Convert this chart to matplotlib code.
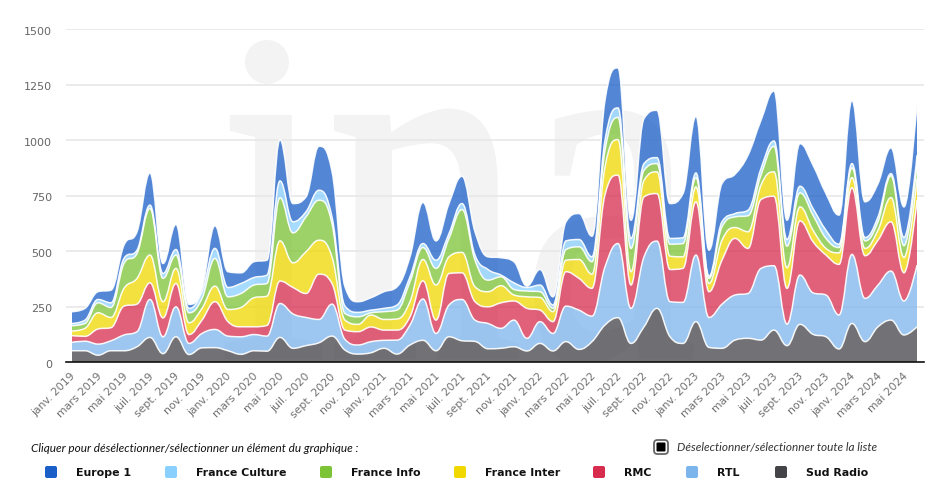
import numpy as np
import matplotlib
matplotlib.use('Agg')
import matplotlib.pyplot as plt
from matplotlib.path import Path
from matplotlib.patches import PathPatch, FancyBboxPatch, Circle
from matplotlib.textpath import TextPath
from matplotlib.font_manager import FontProperties
from matplotlib.transforms import Affine2D, IdentityTransform, ScaledTranslation

W, H = 946, 503

# values: top edge of each stacked band, monthly from janv. 2019
top_sud = [52,52,32,52,52,70,112,39,115,35,65,66,52,36,52,50,112,63,75,88,
           118,55,37,43,63,37,78,99,52,115,97,94,61,63,70,51,85,51,93,58,
           93,168,201,85,160,243,115,85,183,67,63,100,108,100,145,75,171,126,115,60,
           175,93,160,190,123,160]
top_rtl = [90,95,82,97,123,138,283,115,250,85,130,148,118,115,125,118,265,218,202,193,
           262,103,78,93,99,100,168,285,130,258,283,190,175,153,190,108,183,130,253,235,
           208,430,535,243,475,546,273,270,483,202,262,303,310,423,435,172,393,313,303,213,
           486,288,348,411,276,438]
top_rmc = [120,117,150,156,253,262,358,200,355,125,190,273,183,160,160,166,366,337,310,397,
           355,145,138,159,145,145,205,367,190,400,403,273,250,268,276,243,235,183,408,378,
           333,755,843,348,745,760,418,423,723,318,460,558,513,733,748,333,637,543,483,441,
           786,480,550,633,403,730]
top_inter = [141,153,223,202,333,378,483,273,423,178,243,343,238,247,291,298,547,448,498,550,
             475,190,171,213,193,195,273,463,348,475,495,340,318,345,303,295,292,228,460,463,
             397,880,1003,408,820,858,478,475,790,355,550,607,588,798,858,426,700,595,513,493,
             832,513,595,742,472,828]
top_info = [165,175,268,247,445,490,693,378,483,223,288,468,295,310,348,355,741,583,655,730,
            625,220,205,223,228,235,363,517,423,558,688,460,370,385,328,321,318,243,508,520,
            453,955,1103,513,865,895,532,535,832,378,610,655,660,843,973,523,763,663,558,517,
            876,547,633,840,525,895]
top_culture = [175,190,283,268,468,505,708,400,508,243,318,513,337,355,382,393,817,633,678,775,
               655,253,225,235,243,258,385,535,460,580,715,483,418,393,358,337,348,258,547,553,
               475,1000,1146,558,895,922,558,561,853,388,633,670,685,873,997,553,793,693,595,532,
               895,562,655,850,562,933]
top_europe = [228,243,318,325,528,588,853,445,621,261,333,615,408,403,453,460,1003,715,745,973,
              860,340,273,291,318,340,475,720,547,715,838,588,475,471,453,343,418,295,633,670,
              568,1180,1326,640,1098,1135,715,760,1108,505,805,847,933,1090,1222,640,985,888,760,663,
              1180,723,805,966,700,1170]

names = ['Europe 1', 'France Culture', 'France Info', 'France Inter', 'RMC', 'RTL', 'Sud Radio']
colors = ['#1a5fc8', '#8ad0ff', '#7cc436', '#f0d800', '#d82c4e', '#7cb5ec', '#434348']
tops = [top_europe, top_culture, top_info, top_inter, top_rmc, top_rtl, top_sud]
y_ticks = [0, 250, 500, 750, 1000, 1250, 1500]
month_names = ['janv.', 'mars', 'mai', 'juil.', 'sept.', 'nov.']
tick_labels = [f'{m} {y}' for y in range(2019, 2025) for m in month_names][:33]


def spline_segments(y):
    # same smoothing as a highcharts areaspline
    x = np.arange(len(y), dtype=float)
    y = np.array(y, dtype=float)
    n = len(y)
    left = np.column_stack([x, y])
    right = np.column_stack([x, y])
    for i in range(1, n - 1):
        lx = (1.5 * x[i] + x[i-1]) / 2.5
        ly = (1.5 * y[i] + y[i-1]) / 2.5
        rx = (1.5 * x[i] + x[i+1]) / 2.5
        ry = (1.5 * y[i] + y[i+1]) / 2.5
        corr = (ry - ly) * (rx - x[i]) / (rx - lx) + y[i] - ry
        ly += corr
        ry += corr
        if ly > y[i] and ly > y[i-1]:
            ly = max(y[i-1], y[i])
            ry = 2 * y[i] - ly
        elif ly < y[i] and ly < y[i-1]:
            ly = min(y[i-1], y[i])
            ry = 2 * y[i] - ly
        if ry > y[i] and ry > y[i+1]:
            ry = max(y[i+1], y[i])
            ly = 2 * y[i] - ry
        elif ry < y[i] and ry < y[i+1]:
            ry = min(y[i+1], y[i])
            ly = 2 * y[i] - ry
        left[i] = lx, ly
        right[i] = rx, ry
    return x, y, left, right


def curve_verts(y):
    x, y, left, right = spline_segments(y)
    verts = [(x[0], y[0])]
    for i in range(1, len(y)):
        verts += [tuple(right[i-1]), tuple(left[i]), (x[i], y[i])]
    return verts


fig = plt.figure(figsize=(W / 100, H / 100), dpi=100)
ax = fig.add_axes([66 / W, (H - 362.3) / H, 858 / W, 333 / H])
ax.set_xlim((66 - 72) / 13, (924 - 72) / 13)
ax.set_ylim(0, 1500)

for s in ['top', 'left', 'right']:
    ax.spines[s].set_visible(False)
ax.spines['bottom'].set_color('#111111')
ax.spines['bottom'].set_linewidth(1.2)
ax.spines['bottom'].set_zorder(6)
ax.set_axisbelow(True)
ax.grid(axis='y', color='#e6e6e6', linewidth=1.1)
ax.tick_params(length=0)
ax.set_yticks(y_ticks)
ax.set_yticklabels([str(t) for t in y_ticks], fontsize=8, color='#666666')
ax.tick_params(axis='y', pad=10)
for lab in ax.get_yticklabels():
    lab.set_transform(lab.get_transform() + ScaledTranslation(0, -1.5 / 100, fig.dpi_scale_trans))
ax.set_xticks(range(0, 66, 2))
ax.set_xticklabels(tick_labels, rotation=45, ha='right', va='top', rotation_mode='anchor',
                   fontsize=7.8, color='#707070')
ax.tick_params(axis='x', pad=6.5)
for lab in ax.get_xticklabels():
    lab.set_transform(lab.get_transform() + ScaledTranslation(-1.5 / 100, 0, fig.dpi_scale_trans))

# pale logo behind the areas, fitted on its pixel box
logo = TextPath((0, 0), '\u0131na', size=100, prop=FontProperties(family='Liberation Serif'))
box = logo.get_extents()
sx = (691 - 227) / box.width
sy = (362 - 111) / box.height
logo_tr = Affine2D().translate(-box.x0, -box.y0).scale(sx, sy).translate(227, H - 362)
ax.add_patch(PathPatch(logo, transform=logo_tr, facecolor='#f3f3f3', edgecolor='#f3f3f3',
                       linewidth=3.5, zorder=0.4))
ax.add_patch(Circle((267, H - 62), 22, transform=IdentityTransform(), facecolor='#f3f3f3',
                    edgecolor='none', zorder=0.4))

# stacked areas, top band first
n_months = len(top_sud)
for k in range(len(tops)):
    upper = curve_verts(tops[k])
    if k + 1 < len(tops):
        lower = curve_verts(tops[k + 1])[::-1]
    else:
        lower = [(n_months - 1, 0), (n_months - 1, 0), (0, 0), (0, 0)]
    verts = upper + lower + [upper[0]]
    codes = [Path.MOVETO] + [Path.CURVE4] * (len(upper) - 1) + [Path.LINETO] + \
            [Path.CURVE4] * (len(lower) - 1) + [Path.CLOSEPOLY]
    ax.add_patch(PathPatch(Path(verts, codes), facecolor=colors[k], alpha=0.75,
                           edgecolor='none', zorder=2 + k * 0.01))
    line_codes = [Path.MOVETO] + [Path.CURVE4] * (len(upper) - 1)
    ax.add_patch(PathPatch(Path(upper, line_codes), facecolor='none', edgecolor='white',
                           linewidth=1.1, zorder=3, alpha=0.9))

# legend, in pixel positions
legend_ax = fig.add_axes([0, 0, 1, 1], facecolor='none')
legend_ax.set_xlim(0, W)
legend_ax.set_ylim(H, 0)
legend_ax.axis('off')

legend_ax.text(31, 448.5, 'Cliquer pour désélectionner/sélectionner un élément du graphique :',
               family='Lato', style='italic', fontsize=8.5, color='#111111', va='center')
legend_ax.text(677, 447.5, 'Déselectionner/sélectionner toute la liste',
               family='Lato', style='italic', fontsize=8.5, color='#333333', va='center')
legend_ax.add_patch(FancyBboxPatch((654, 440), 14, 14, boxstyle='round,pad=0,rounding_size=3.5',
                                   facecolor='white', edgecolor='#666666', linewidth=1.3))
legend_ax.add_patch(FancyBboxPatch((656.5, 442.5), 9, 9, boxstyle='round,pad=0,rounding_size=1',
                                   facecolor='black', edgecolor='none'))

swatch_x = [45, 165, 320, 454, 593, 686, 775]
label_x = [76, 196, 351, 485, 624, 717, 806]
for name, col, sx_, lx in zip(names, colors, swatch_x, label_x):
    legend_ax.add_patch(FancyBboxPatch((sx_, 466), 12, 12, boxstyle='round,pad=0,rounding_size=2',
                                       facecolor=col, edgecolor='none'))
    legend_ax.text(lx, 472.5, name, fontweight='bold', fontsize=7.9, color='#111111', va='center')

fig.savefig('out.png', dpi=100)
